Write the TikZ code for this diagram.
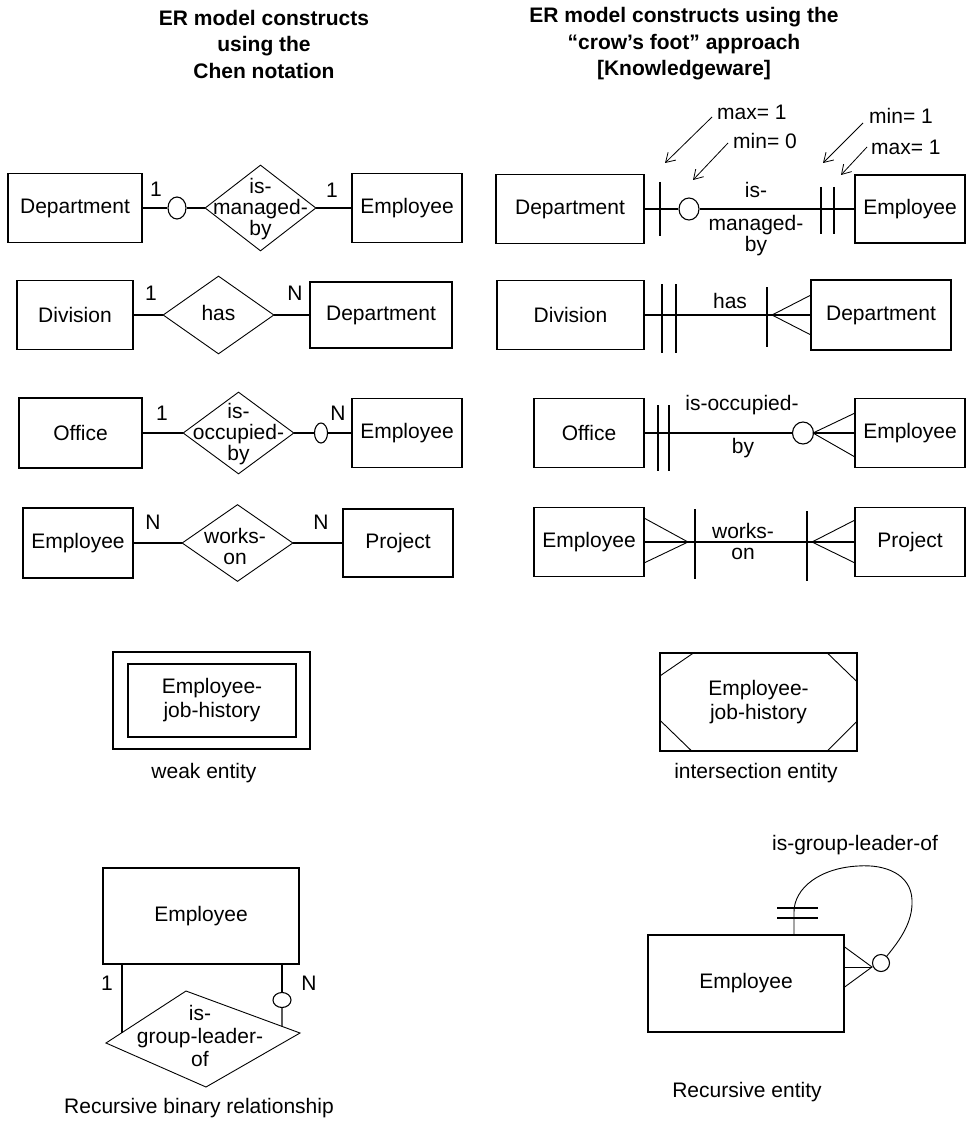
\documentclass[tikz,border=0pt]{standalone}
\usepackage{fontspec}
\setmainfont{Liberation Sans}
\usetikzlibrary{shapes.geometric,calc,arrows.meta}
\begin{document}
\begin{tikzpicture}[x=1pt,y=-1pt,font=\fontsize{21}{23}\selectfont,
  ent/.style args={#1x#2}{draw,line width=1.3pt,inner sep=0pt,minimum width=#1pt,minimum height=#2pt,align=center},
  reln/.style args={#1x#2}{draw,shape=diamond,line width=0.9pt,inner sep=0pt,minimum width=#1pt,minimum height=#2pt},
  rtxt/.style={align=center,inner sep=0pt,font=\fontsize{21}{21}\selectfont},
  ell/.style args={#1x#2}{draw,ellipse,line width=1.1pt,inner sep=0pt,minimum width=#1pt,minimum height=#2pt},
  conn/.style={line width=1.3pt},
  bar/.style={line width=1.3pt},
  foot/.style={line width=0.9pt},
  annot/.style={line width=0.8pt,-{Straight Barb[length=9pt,width=11pt]}},
  card/.style={inner sep=0pt},
  ttl/.style={align=center,font=\fontsize{21}{26.5}\selectfont\bfseries}]
\fill[white,use as bounding box] (0,0) rectangle (966,1123);

% titles
\node[ttl] (t1) at (264,44) {ER model constructs\\using the\\Chen notation};
\node[ttl] (t2) at (684,44) {ER model constructs using the\\“crow’s foot” approach\\[0pt][Knowledgeware]};

% ---------- Chen notation ----------
% row 1
\node[ent=134x69] (c1a) at (75,208) {Department};
\node[ell=18x22] (c1o) at (177,208) {};
\node[reln=111x86] (c1r) at (260.5,208) {};
\node[rtxt] (c1rt) at (260.5,209) {is-\\managed-\\by};
\node[ent=110x69] (c1b) at (407,208) {Employee};
\draw[conn] (c1a.east) -- (c1o.west);
\draw[conn] (c1o.east) -- (c1r.west);
\draw[conn] (c1r.east) -- (c1b.west);
\node[card] (c1n1) at (156,189) {1};
\node[card] (c1n2) at (332,190) {1};
% row 2
\node[ent=116x69] (c2a) at (75,315) {Division};
\node[reln=111x78] (c2r) at (218.5,315) {};
\node[rtxt] (c2rt) at (218.5,313) {has};
\node[ent=142x66] (c2b) at (381,315) {Department};
\draw[conn] (c2a.east) -- (c2r.west);
\draw[conn] (c2r.east) -- (c2b.west);
\node[card] (c2n1) at (151,293) {1};
\node[card] (c2n2) at (295,293) {N};
% row 3
\node[ent=123x70] (c3a) at (80.5,433) {Office};
\node[reln=111x82] (c3r) at (238.5,433) {};
\node[rtxt] (c3rt) at (238.5,434) {is-\\occupied-\\by};
\node[ell=13x20] (c3o) at (321,433) {};
\node[ent=110x69] (c3b) at (407,433) {Employee};
\draw[conn] (c3a.east) -- (c3r.west);
\draw[conn] (c3r.east) -- (c3o.west);
\draw[conn] (c3o.east) -- (c3b.west);
\node[card] (c3n1) at (162,413) {1};
\node[card] (c3n2) at (338,413) {N};
% row 4
\node[ent=110x70] (c4a) at (78,543) {Employee};
\node[reln=111x77] (c4r) at (237.5,543) {};
\node[rtxt] (c4rt) at (235,546) {works-\\on};
\node[ent=110x68] (c4b) at (398,543) {Project};
\draw[conn] (c4a.east) -- (c4r.west);
\draw[conn] (c4r.east) -- (c4b.west);
\node[card] (c4n1) at (153,522) {N};
\node[card] (c4n2) at (321,522) {N};

% ---------- crow's foot ----------
% row 1
\node[ent=148x69] (k1a) at (570,209) {Department};
\node[ell=20x22] (k1o) at (689,209) {};
\node[ent=110x68] (k1b) at (910,209) {Employee};
\draw[conn] (k1a.east) -- (k1o.west);
\draw[conn] (k1o.east) -- (k1b.west);
\draw[bar] (660,182) -- (660,236);
\draw[bar] (821,187) -- (821,234);
\draw[bar] (834,187) -- (834,234);
\node[card] (k1t1) at (756,190) {is-};
\node[rtxt] (k1t2) at (756,236) {managed-\\by};
\node[card,anchor=west] (m1) at (717,112) {max= 1};
\node[card,anchor=west] (m2) at (733,141) {min= 0};
\node[card,anchor=west] (m3) at (869,116) {min= 1};
\node[card,anchor=west] (m4) at (871,147) {max= 1};
\coordinate (a1) at (665,163);
\coordinate (a2) at (693,180);
\coordinate (a3) at (823,163);
\coordinate (a4) at (841,175);
\draw[annot] ([shift={(-5,5)}]m1.west) -- (a1);
\draw[annot] ([shift={(-5,2)}]m2.west) -- (a2);
\draw[annot] ([shift={(-6,7)}]m3.west) -- (a3);
\draw[annot] ([shift={(-4,0)}]m4.west) -- (a4);
% row 2
\node[ent=147x69] (k2a) at (570.5,315) {Division};
\node[ent=140x70] (k2b) at (881,315) {Department};
\draw[conn] (k2a.east) -- (k2b.west);
\draw[bar] (662,284) -- (662,353);
\draw[bar] (676,284) -- (676,353);
\draw[bar] (767,287) -- (767,347);
\draw[foot] (811,295) -- (772,315) -- (811,335);
\node[card] (k2t) at (730,301) {has};
% row 3
\node[ent=110x69] (k3a) at (589,433) {Office};
\node[ell=21x22] (k3o) at (803,433) {};
\node[ent=110x69] (k3b) at (910,433) {Employee};
\draw[conn] (k3a.east) -- (k3o.west);
\draw[conn] (k3o.east) -- (k3b.west);
\draw[bar] (658,405) -- (658,471);
\draw[bar] (669,405) -- (669,471);
\draw[foot] (855,413) -- (813,433) -- (855,457);
\node[card] (k3t1) at (742,405) {is-occupied-};
\node[card] (k3t2) at (743,448) {by};
% row 4
\node[ent=110x69] (k4a) at (589,542) {Employee};
\node[ent=110x69] (k4b) at (910,542) {Project};
\draw[conn] (k4a.east) -- (k4b.west);
\draw[foot] (644,518) -- (688,542) -- (644,563);
\draw[bar] (695,509) -- (695,579);
\draw[bar] (807,511) -- (807,581);
\draw[foot] (855,520) -- (812,542) -- (855,563);
\node[rtxt] (k4t) at (743,541) {works-\\on};

% ---------- weak entity ----------
\node[ent=197x97] (we) at (211.5,700.5) {};
\node[ent=168x73,font=\fontsize{21}{24}\selectfont] (wi) at (212,700.5) {Employee-\\job-history};
\node (wl) at (204,773) {weak entity};

% ---------- intersection entity ----------
\node[ent=197x98,font=\fontsize{21}{24}\selectfont] (ie) at (758.5,702) {Employee-\\job-history};
\draw[foot] ([xshift=35pt]ie.north west) -- ([yshift=-24pt]ie.north west);
\draw[foot] ([xshift=-31pt]ie.north east) -- ([yshift=-30pt]ie.north east);
\draw[foot] ([yshift=32pt]ie.south west) -- ([xshift=33pt]ie.south west);
\draw[foot] ([yshift=31pt]ie.south east) -- ([xshift=-31pt]ie.south east);
\node (il) at (756,773) {intersection entity};

% ---------- recursive binary relationship ----------
\node[ent=196x96] (rb) at (201,916) {Employee};
\coordinate (dT) at (186,991);
\coordinate (dR) at (300,1033);
\coordinate (dB) at (206,1087);
\coordinate (dL) at (106,1043);
\draw[foot] (dT) -- (dR) -- (dB) -- (dL) -- cycle;
\node[rtxt,font=\fontsize{21}{23}\selectfont] (rbt) at (200,1036) {is-\\group-leader-\\of};
\coordinate (pL) at ($(dT)!0.8!(dL)$);
\coordinate (pR) at ($(dT)!0.842!(dR)$);
\node[ell=18x15] (rbc) at (282,1000) {};
\draw[conn] (pL) -- (pL |- rb.south);
\draw[conn] (pR) -- (rbc.south);
\draw[conn] (rbc.north) -- (rbc.north |- rb.south);
\node[card] (rbn1) at (107,983) {1};
\node[card] (rbn2) at (309,983) {N};
\node (rbl) at (199,1108) {Recursive binary relationship};

% ---------- recursive entity ----------
\node[ent=196x97] (re) at (746,983.5) {Employee};
\node[ell=17x17] (rc) at (881,963) {};
\coordinate (ra) at (872,967);
\draw[foot] (re.east |- 0,947) -- (ra) -- (re.east |- 0,987);
\draw[foot] (re.east |- 0,967) -- (ra);
\coordinate (rtop) at (re.north -| 794,0);
\draw[foot] (rc.50) .. controls (900,940) and (913,922) .. (912,900)
  .. controls (911,874) and (885,864) .. (858,866)
  .. controls (820,868) and (794,888) .. (794,912) -- (rtop);
\draw[bar,line width=1.1pt] (777,908) -- (818,908);
\draw[bar,line width=1.1pt] (777,918) -- (818,918);
\node (rl) at (855,845) {is-group-leader-of};
\node (rel) at (747,1092) {Recursive entity};
\end{tikzpicture}
\end{document}
